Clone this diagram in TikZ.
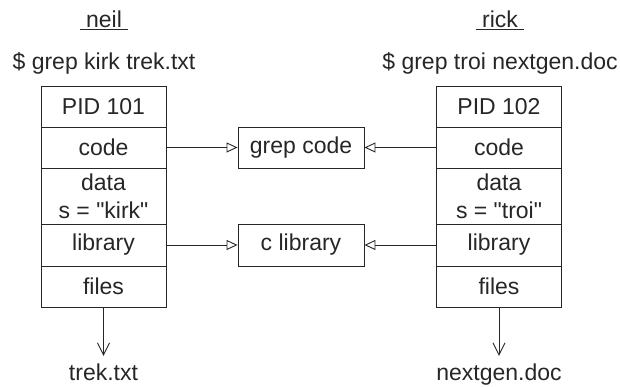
\documentclass[tikz,border=0pt]{standalone}
\usepackage{fontspec}
\setmainfont{Liberation Sans}[Ligatures=TeXOff]
\usetikzlibrary{arrows.meta}
\definecolor{ink}{HTML}{262626}
\begin{document}
\begin{tikzpicture}[x=1pt,y=1pt,
  every node/.style={font=\fontsize{23}{28}\selectfont, text=ink},
  cell/.style={draw=ink, line width=0.9pt, minimum width=125pt, inner sep=0pt, align=center},
  txt/.style={inner sep=0pt},
  link/.style={draw=ink, line width=0.9pt, -{Triangle[open, length=11pt, width=10pt]}},
  outarrow/.style={draw=ink, line width=0.9pt, -{Straight Barb[length=12pt, width=12pt]}}]
\useasboundingbox (0,0) rectangle (620,387);
% left process
\node[cell, minimum height=41pt] (lpid) at (103.5,280.5) {PID 101};
\node[cell, minimum height=41pt] (lcode) at (103.5,239.5) {code};
\node[cell, minimum height=56pt] (ldata) at (103.5,191) {data\\s = "kirk"};
\node[cell, minimum height=42pt] (llib) at (103.5,142) {library};
\node[cell, minimum height=41pt] (lfiles) at (103.5,100.5) {files};
% right process
\node[cell, minimum height=41pt] (rpid) at (499,280.5) {PID 102};
\node[cell, minimum height=41pt] (rcode) at (499,239.5) {code};
\node[cell, minimum height=56pt] (rdata) at (499,191) {data\\s = "troi"};
\node[cell, minimum height=42pt] (rlib) at (499,142) {library};
\node[cell, minimum height=41pt] (rfiles) at (499,100.5) {files};
% shared
\node[cell, minimum width=126pt, minimum height=41pt] (grep) at (301,239.5) {grep code};
\node[cell, minimum width=126pt, minimum height=42pt] (clib) at (301,142) {c library};
% headers
\node[txt] (neil) at (104,367) {\underline{\ neil\ }};
\node[txt] (rick) at (500,367) {\underline{\ rick\ }};
\node[txt] (lcmd) at (104,324) {\$ grep kirk trek.txt};
\node[txt] (rcmd) at (500,324) {\$ grep troi nextgen.doc};
% outputs
\node[txt, text height=16pt, text depth=0pt] (trek) at (103.5,14) {trek.txt};
\node[txt, text height=16pt, text depth=0pt] (ngen) at (499,14) {nextgen.doc};
% connectors
\draw[link] (lcode) -- (grep);
\draw[link] (rcode) -- (grep);
\draw[link] (llib) -- (clib);
\draw[link] (rlib) -- (clib);
\draw[outarrow] (lfiles) -- ([yshift=9pt]trek.north);
\draw[outarrow] (rfiles) -- ([yshift=9pt]ngen.north);
\end{tikzpicture}
\end{document}
